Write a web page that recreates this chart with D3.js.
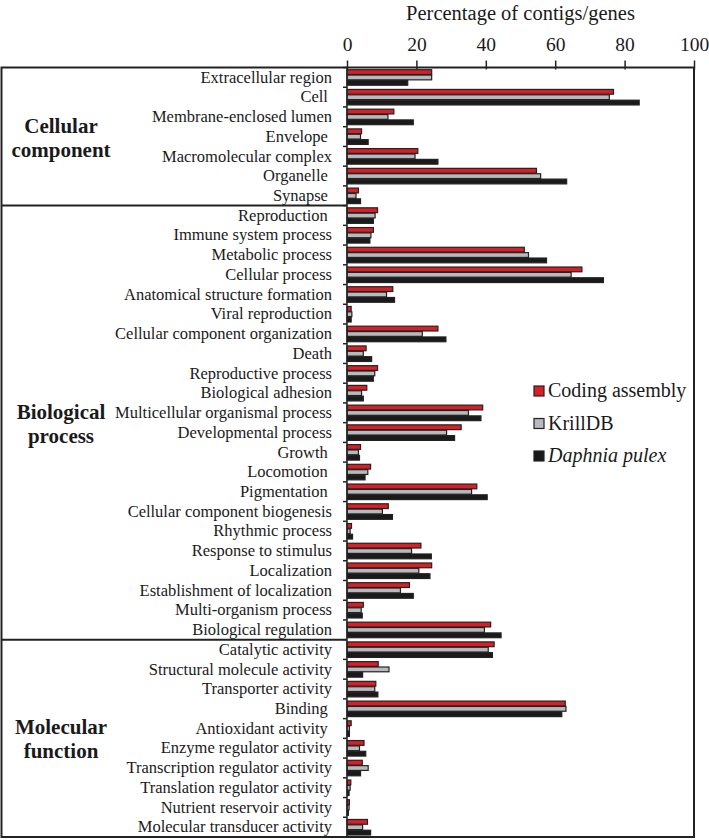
<!DOCTYPE html>
<html><head><meta charset="utf-8">
<script src="https://cdn.jsdelivr.net/npm/d3@7"></script>
<style>
html,body{margin:0;padding:0;background:#fff;}
svg text{font-family:"Liberation Serif","Times New Roman",serif;fill:#1a1a1a;}
</style></head>
<body><svg id="chart" width="709" height="840"></svg>
<script>
const categories = [
 "Extracellular region","Cell ","Membrane-enclosed lumen","Envelope ","Macromolecular complex","Organelle ","Synapse ",
 "Reproduction ","Immune system process","Metabolic process","Cellular process","Anatomical structure formation","Viral reproduction","Cellular component organization","Death","Reproductive process","Biological adhesion","Multicellular organismal process","Developmental process","Growth ","Locomotion ","Pigmentation ","Cellular component biogenesis","Rhythmic process","Response to stimulus","Localization","Establishment of localization","Multi-organism process","Biological regulation",
 "Catalytic activity","Structural molecule activity","Transporter activity","Binding ","Antioxidant activity ","Enzyme regulator activity","Transcription regulator activity","Translation regulator activity","Nutrient reservoir activity","Molecular transducer activity"
];
const coding = [24.4,76.8,13.5,4.2,20.4,54.6,3.3,
 8.8,7.6,51.1,67.7,13.2,1.2,26.2,5.5,8.8,5.7,39.1,32.9,3.9,6.8,37.4,11.9,1.3,21.3,24.4,18.0,4.7,41.4,
 42.4,9.0,8.3,62.9,1.2,4.9,4.4,1.1,0.7,5.9];
const krill = [24.4,75.6,11.8,3.9,19.6,55.8,2.6,
 8.1,6.9,52.3,64.6,11.4,1.4,21.7,4.7,8.0,4.2,35.0,28.7,3.3,6.0,35.9,10.2,0.9,18.6,20.7,15.4,4.1,39.6,
 40.7,12.1,8.0,63.1,0.7,3.6,6.1,0.9,0.6,4.5];
const daphnia = [17.5,84.2,19.1,6.1,26.2,63.3,3.9,
 7.6,6.6,57.5,73.9,13.7,1.2,28.5,7.1,7.6,4.7,38.6,31.0,3.6,5.2,40.4,13.1,1.6,24.3,23.9,19.1,4.4,44.4,
 41.9,4.5,8.9,61.9,0.7,5.4,3.9,0.6,0.4,6.8];
const seriesNames = ["Coding assembly","KrillDB","Daphnia pulex"];
const seriesColors = ["#d91e26","#b9b9bd","#1a1a1a"];
const groupNames = [["Cellular","component"],["Biological","process"],["Molecular","function"]];
const groupSizes = [7,22,10];
const xTicks = [0,20,40,60,80,100];
const xTitle = "Percentage of contigs/genes";

(function(){
const svg = d3.select("#chart");
const pTop = 67.5, pBottom = 837, pLeft = 347, pRight = 694, frameL = 1.5;
const x = d3.scaleLinear().domain([0,100]).range([pLeft,pRight]);
const y = d3.scaleBand().domain(categories).range([pTop,pBottom]);
const sub = d3.scaleBand().domain(seriesNames).range([2.2, y.bandwidth()-1.4]);
const seriesData = [coding, krill, daphnia];
const ink = "#222";
const serif = '"Liberation Serif","Times New Roman",serif';

// bars
seriesNames.forEach((s,si)=>{
  svg.append("g").selectAll("rect").data(categories).join("rect")
    .attr("x", x(0))
    .attr("y", d=>y(d)+sub(s))
    .attr("width", (d,i)=>x(seriesData[si][i])-x(0))
    .attr("height", sub.bandwidth()-0.6)
    .attr("fill", seriesColors[si])
    .attr("stroke", ink).attr("stroke-width",1.2);
});

// category labels
const yAxis = svg.append("g").attr("transform",`translate(${pLeft},0)`)
  .call(d3.axisLeft(y).tickSize(0).tickPadding(15));
yAxis.select(".domain").remove();
yAxis.selectAll("text").attr("font-size",16.5).style("white-space","pre")
  .attr("font-family",serif).attr("fill","#1a1a1a");

// y boundary ticks
const bounds = d3.range(categories.length+1).map(i=> i<categories.length ? y(categories[i]) : pBottom);
svg.append("g").selectAll("line").data(bounds).join("line")
  .attr("x1", pLeft-4).attr("x2", pLeft).attr("y1", d=>d).attr("y2", d=>d)
  .attr("stroke", ink).attr("stroke-width",1.5);

// x axis
const xAxis = svg.append("g").attr("transform",`translate(0,${pTop})`)
  .call(d3.axisTop(x).tickValues(xTicks).tickFormat(d3.format("d")).tickSize(7).tickPadding(10).tickSizeOuter(0));
xAxis.select(".domain").remove();
xAxis.selectAll(".tick line").attr("stroke",ink).attr("stroke-width",1.5).attr("y2",-7).attr("y1",2);
xAxis.selectAll("text").attr("font-size",19.5)
  .attr("font-family",serif).attr("fill","#1a1a1a");

svg.append("text").attr("x",(pLeft+pRight)/2).attr("y",20).attr("text-anchor","middle")
  .attr("font-size",20.5).text(xTitle);

// frame
const fr = svg.append("g").attr("stroke",ink).attr("fill","none");
fr.append("rect").attr("x",frameL).attr("y",pTop).attr("width",pRight-frameL).attr("height",pBottom-pTop).attr("stroke-width",2);
fr.append("line").attr("x1",pLeft).attr("x2",pLeft).attr("y1",pTop).attr("y2",pBottom).attr("stroke-width",1.5);
let acc = 0;
const sectionBounds = [];
groupSizes.forEach((n)=>{
  const y0 = y(categories[acc]);
  const y1 = (acc+n<categories.length) ? y(categories[acc+n]) : pBottom;
  sectionBounds.push([y0,y1]);
  acc += n;
});
sectionBounds.slice(1).forEach(b=>{
  fr.append("line").attr("x1",frameL).attr("x2",pLeft).attr("y1",b[0]).attr("y2",b[0]).attr("stroke-width",2);
});
// group labels
groupNames.forEach((g,gi)=>{
  const c = (sectionBounds[gi][0]+sectionBounds[gi][1])/2;
  const t = svg.append("text").attr("x",61).attr("text-anchor","middle")
    .attr("font-size",21).attr("font-weight","bold");
  t.append("tspan").attr("x",61).attr("y",c-4).text(g[0]);
  t.append("tspan").attr("x",61).attr("y",c+20).text(g[1]);
});

// legend
const leg = svg.append("g").attr("transform","translate(534,386)");
seriesNames.forEach((s,i)=>{
  const gy = i*32.5;
  leg.append("rect").attr("x",0).attr("y",gy).attr("width",10).attr("height",10)
    .attr("fill",seriesColors[i]).attr("stroke",ink).attr("stroke-width",1.2);
  leg.append("text").attr("x",14).attr("y",gy+11).attr("font-size",20)
    .attr("font-style", i===2?"italic":"normal").text(s);
});
})();
</script></body></html>
